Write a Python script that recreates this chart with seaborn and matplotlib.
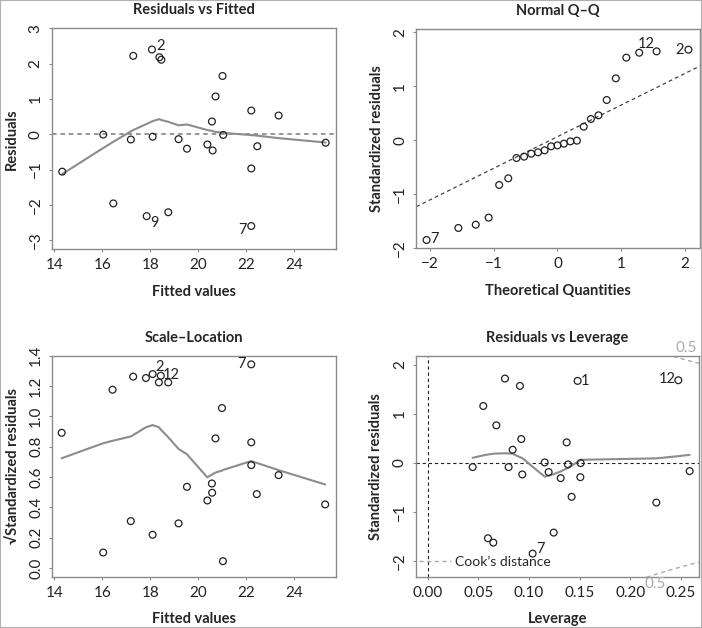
import numpy as np
import pandas as pd
import seaborn as sns
import matplotlib
matplotlib.use("Agg")
import matplotlib.pyplot as plt
from matplotlib.patches import Rectangle

# --- values (R lm diagnostics, n = 25) ---
rv_fitted = [14.33, 16.04, 16.46, 17.19, 17.29, 17.85, 18.07, 18.10, 18.38, 18.46,
             18.75, 19.18, 19.53, 20.38, 20.57, 20.60, 20.72, 21.01, 21.04, 22.21,
             22.21, 22.21, 22.46, 23.35, 25.31]
rv_resid = [-1.06, -0.01, -1.96, -0.15, 2.22, -2.32, 2.40, -0.07, 2.18, 2.11,
            -2.21, -0.14, -0.41, -0.29, 0.36, -0.46, 1.07, 1.65, -0.02, 0.67,
            -0.97, -2.60, -0.34, 0.53, -0.24]
rv_ids = {6: "2", 5: "9", 21: "7"}

qq_theory = [-2.054, -1.555, -1.282, -1.080, -0.915, -0.772, -0.643, -0.524, -0.412,
             -0.305, -0.202, -0.100, 0.000, 0.100, 0.202, 0.305, 0.412, 0.524, 0.643,
             0.772, 0.915, 1.080, 1.282, 1.555, 2.054]
qq_std = [-1.846, -1.623, -1.562, -1.432, -0.827, -0.704, -0.327, -0.302, -0.247,
          -0.222, -0.185, -0.111, -0.093, -0.062, -0.019, -0.006, 0.253, 0.395,
          0.463, 0.747, 1.148, 1.531, 1.623, 1.648, 1.679]
qq_ids = {0: "7", 23: "12", 24: "2"}

sl_fitted = [14.31, 16.04, 16.43, 17.19, 17.29, 17.82, 18.10, 18.10, 18.36, 18.44,
             18.75, 19.18, 19.53, 20.38, 20.57, 20.58, 20.72, 20.99, 21.03, 22.21,
             22.21, 22.21, 22.44, 23.35, 25.29]
sl_sqrt = [0.892, 0.103, 1.176, 0.310, 1.262, 1.253, 1.279, 0.220, 1.224, 1.268,
           1.224, 0.295, 0.536, 0.446, 0.558, 0.497, 0.855, 1.055, 0.046, 1.343,
           0.829, 0.679, 0.488, 0.613, 0.420]
sl_ids = {6: "2", 9: "12", 19: "7"}

lev_h = [0.0444, 0.0549, 0.0595, 0.0648, 0.0678, 0.0763, 0.0799, 0.0839, 0.0911,
         0.0924, 0.0934, 0.1036, 0.1155, 0.1194, 0.1244, 0.1313, 0.1372, 0.1385,
         0.1421, 0.1480, 0.1507, 0.1510, 0.2257, 0.2474, 0.2586]
lev_std = [-0.088, 1.156, -1.537, -1.626, 0.762, 1.714, -0.088, 0.265, 1.565, 0.483,
           -0.238, -1.850, 0.007, -0.190, -1.422, -0.313, 0.415, -0.034, -0.694,
           1.667, -0.293, -0.007, -0.810, 1.680, -0.170]
lev_ids = {19: "1", 23: "12", 11: "7"}

n_params = 3
cook_level = 0.5


def lowess(x, y, f=2 / 3, it=3):
    # plain port of R's lowess (clowess), without the delta speed-up
    x = np.asarray(x, float)
    y = np.asarray(y, float)
    o = np.argsort(x, kind="stable")
    x, y = x[o], y[o]
    n = len(x)
    ns = max(min(int(f * n + 1e-7), n), 2)
    rw = np.ones(n)
    ys = np.zeros(n)
    rng = x[-1] - x[0]
    for _ in range(it + 1):
        nleft, nright = 0, ns - 1
        for i in range(n):
            while nright < n - 1 and x[i] - x[nleft] > x[nright + 1] - x[i]:
                nleft += 1
                nright += 1
            h = max(x[i] - x[nleft], x[nright] - x[i])
            r = np.abs(x - x[i])
            w = np.zeros(n)
            near = r <= 0.999 * h
            w[near] = (1 - (r[near] / h) ** 3) ** 3 if h > 0 else 1
            w[r <= 0.001 * h] = 1
            w *= rw
            if w.sum() <= 0:
                ys[i] = y[i]
                continue
            w /= w.sum()
            if h > 0:
                a = np.sum(w * x)
                c = np.sum(w * (x - a) ** 2)
                if np.sqrt(c) > 0.001 * rng:
                    w = w * ((x[i] - a) * (x - a) / c + 1)
            ys[i] = np.sum(w * y)
        res = np.abs(y - ys)
        cmad = 6 * np.median(res)
        if cmad < 1e-7 * np.mean(np.abs(y)):
            break
        u = res / cmad
        rw = np.where(u <= 0.001, 1.0, np.where(u > 0.999, 0.0, (1 - u ** 2) ** 2))
    return pd.DataFrame({"x": x, "y": ys})


sns.set_theme(style="white")
plt.rcParams["font.family"] = ["Lato", "DejaVu Sans"]

spine_col = "#8a8a8a"
smooth_col = "#8c8c8c"
pt_kw = dict(marker="o", s=24, facecolor="none", edgecolor="#222222",
             linewidth=0.9, legend=False, zorder=3)
id_kw = dict(textcoords="offset points", ha="center", va="center",
             fontsize=10.5, color="#222222")

fig = plt.figure(figsize=(7.02, 6.28), dpi=100)
ax1 = fig.add_axes([0.0736, 0.6030, 0.4050, 0.3519])
ax2 = fig.add_axes([0.5930, 0.6046, 0.4041, 0.3487])
ax3 = fig.add_axes([0.0745, 0.0820, 0.4041, 0.3516])
ax4 = fig.add_axes([0.5926, 0.0817, 0.4031, 0.3519])


def style(ax, title, xlabel, ylabel):
    for s in ax.spines.values():
        s.set_color(spine_col)
        s.set_linewidth(1.0)
    ax.tick_params(axis="both", direction="out", length=2.5, width=0.8,
                   color=spine_col, labelsize=11, labelcolor="#222222", pad=4,
                   bottom=True, left=True)
    plt.setp(ax.get_yticklabels(), rotation=90, va="center")
    ax.set_title(title, fontsize=10.5, fontweight="bold", pad=10)
    ax.set_xlabel(xlabel, fontsize=10.5, fontweight="bold", labelpad=9)
    ax.set_ylabel(ylabel, fontsize=10.5, fontweight="bold", labelpad=7)


# Residuals vs Fitted
rv = pd.DataFrame({"fitted": rv_fitted, "resid": rv_resid})
ax1.axhline(0, color="#7a7a7a", lw=1.1, ls=(0, (3, 2.5)), zorder=1)
sm = lowess(rv["fitted"], rv["resid"])
ax1.plot(sm["x"], sm["y"], color=smooth_col, lw=1.5, zorder=2)
sns.scatterplot(data=rv, x="fitted", y="resid", ax=ax1, **pt_kw)
for i, lab in rv_ids.items():
    off = {"2": (6.3, 2.2), "9": (5.5, -4.8), "7": (-6.2, -3.1)}[lab]
    ax1.annotate(lab, (rv_fitted[i], rv_resid[i]), xytext=off, **id_kw)
ax1.set_xlim(13.89, 25.74)
ax1.set_ylim(-3.26, 3.0)
ax1.set_xticks([14, 16, 18, 20, 22, 24])
ax1.set_yticks([-3, -2, -1, 0, 1, 2, 3])
ax1.set_yticklabels(["\u22123", "\u22122", "\u22121", "0", "1", "2", "3"])
style(ax1, "Residuals vs Fitted", "Fitted values", "Residuals")

# Normal Q-Q
qq = pd.DataFrame({"theory": qq_theory, "std": qq_std})
q_y = np.quantile(qq_std, [0.25, 0.75])
q_x = np.array([-0.6745, 0.6745])
slope = (q_y[1] - q_y[0]) / (q_x[1] - q_x[0])
ax2.axline((0, q_y[0] - slope * q_x[0]), slope=slope, color="#444444", lw=0.9,
           ls=(0, (3, 2.5)), zorder=1)
sns.scatterplot(data=qq, x="theory", y="std", ax=ax2, **pt_kw)
for i, lab in qq_ids.items():
    off = {"7": (6.0, 0.9), "12": (-7.4, 5.0), "2": (-6.5, 0)}[lab]
    ax2.annotate(lab, (qq_theory[i], qq_std[i]), xytext=off, **id_kw)
ax2.set_xlim(-2.215, 2.235)
ax2.set_ylim(-2.0, 2.056)
ax2.set_xticks([-2, -1, 0, 1, 2])
ax2.set_xticklabels(["\u22122", "\u22121", "0", "1", "2"])
ax2.set_yticks([-2, -1, 0, 1, 2])
ax2.set_yticklabels(["\u22122", "\u22121", "0", "1", "2"])
style(ax2, "Normal Q\u2013Q", "Theoretical Quantities", "Standardized residuals")

# Scale-Location
sl = pd.DataFrame({"fitted": sl_fitted, "sq": sl_sqrt})
sm = lowess(sl["fitted"], sl["sq"])
ax3.plot(sm["x"], sm["y"], color=smooth_col, lw=1.5, zorder=2)
sns.scatterplot(data=sl, x="fitted", y="sq", ax=ax3, **pt_kw)
for i, lab in sl_ids.items():
    off = {"2": (5.3, 5.3), "12": (7.3, 0.7), "7": (-6.7, 0)}[lab]
    ax3.annotate(lab, (sl_fitted[i], sl_sqrt[i]), xytext=off, **id_kw)
ax3.set_xlim(13.92, 25.74)
ax3.set_ylim(-0.055, 1.4)
ax3.set_xticks([14, 16, 18, 20, 22, 24])
ax3.set_yticks(np.arange(0, 1.41, 0.2))
ax3.set_yticklabels([f"{v:.1f}" for v in np.arange(0, 1.41, 0.2)])
style(ax3, "Scale\u2013Location", "Fitted values", "\u221aStandardized residuals")

# Residuals vs Leverage
lv = pd.DataFrame({"h": lev_h, "std": lev_std})
ax4.axhline(0, color="#222222", lw=0.8, ls=(0, (3, 2.5)), zorder=1)
ax4.axvline(0, color="#222222", lw=0.8, ls=(0, (3, 2.5)), zorder=1)
sm = lowess(lv["h"], lv["std"])
ax4.plot(sm["x"], sm["y"], color=smooth_col, lw=1.5, zorder=2)
sns.scatterplot(data=lv, x="h", y="std", ax=ax4, **pt_kw)
for i, lab in lev_ids.items():
    off = {"1": (5.5, 0), "12": (-8.3, 0.9), "7": (6.0, 3.4)}[lab]
    ax4.annotate(lab, (lev_h[i], lev_std[i]), xytext=off, **id_kw)
xmax = 0.2678
hh = np.linspace(0.0005, xmax, 101)
cook_y = np.sqrt(cook_level * n_params * (1 - hh) / hh)
ax4.plot(hh, cook_y, color="#aaaaaa", lw=1.0, ls=(0, (3, 2.5)),
         label="Cook\u2019s distance")
ax4.plot(hh, -cook_y, color="#aaaaaa", lw=1.0, ls=(0, (3, 2.5)))
ax4.text(xmax - 0.002, 2.33, "0.5", ha="right", va="center", fontsize=11,
         color="#aaaaaa", clip_on=False)
ax4.text(0.2246, -2.47, "0.5", ha="center", va="center", fontsize=11,
         color="#aaaaaa", clip_on=False)
ax4.legend(loc="center left", bbox_to_anchor=(0.0, 0.068), frameon=False,
           handlelength=2.3, handletextpad=0.3, fontsize=10, borderaxespad=0,
           borderpad=0.2)
ax4.set_xlim(-0.0115, xmax)
ax4.set_ylim(-2.32, 2.18)
ax4.set_xticks([0, 0.05, 0.10, 0.15, 0.20, 0.25])
ax4.set_xticklabels(["0.00", "0.05", "0.10", "0.15", "0.20", "0.25"])
ax4.set_yticks([-2, -1, 0, 1, 2])
ax4.set_yticklabels(["\u22122", "\u22121", "0", "1", "2"])
style(ax4, "Residuals vs Leverage", "Leverage", "Standardized residuals")

fig.patches.append(Rectangle((0, 0), 1, 1, transform=fig.transFigure, fill=False,
                             edgecolor="#b0b0b0", lw=1.5))

fig.savefig("out.png", dpi=100)
